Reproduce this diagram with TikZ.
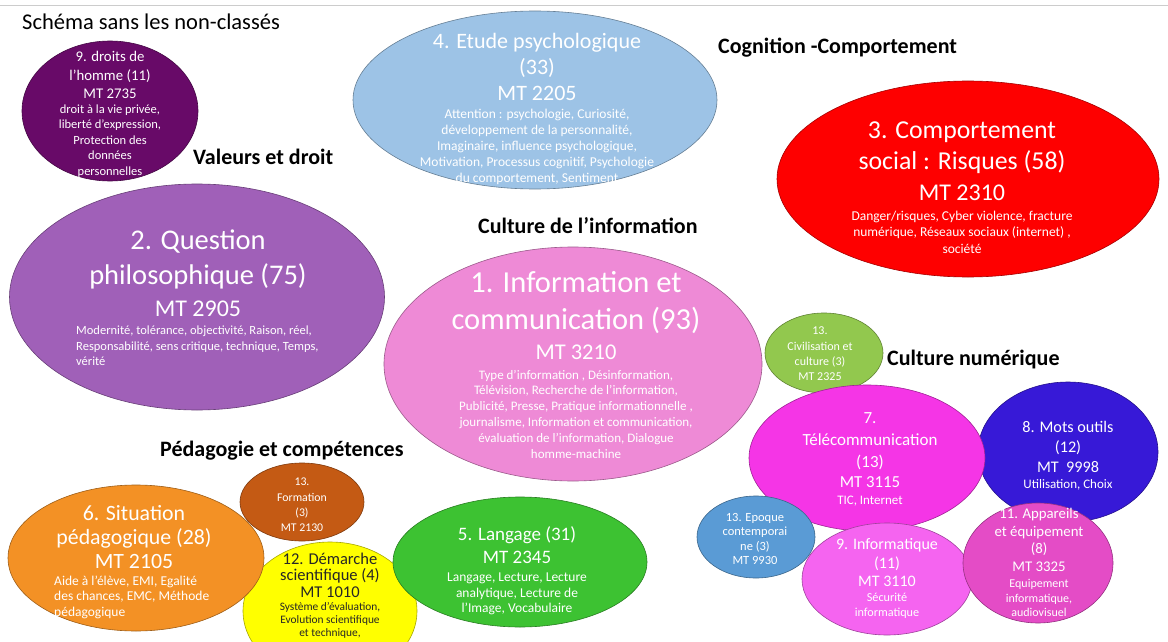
\documentclass[tikz,border=0pt]{standalone}
\usepackage{fontspec}
\setmainfont{Carlito}
\usetikzlibrary{shapes.geometric}
\newcommand\fsz[2]{\fontsize{#1}{#2}\selectfont}
\definecolor{cDroits}{RGB}{104,10,104}
\definecolor{cQuest}{RGB}{160,96,184}
\definecolor{cEtude}{RGB}{157,195,230}
\definecolor{cComp}{RGB}{254,0,0}
\definecolor{cInfo}{RGB}{238,138,214}
\definecolor{cCiv}{RGB}{146,200,78}
\definecolor{cTel}{RGB}{245,53,230}
\definecolor{cMots}{RGB}{55,25,215}
\definecolor{cEpoq}{RGB}{90,155,213}
\definecolor{cInfq}{RGB}{245,100,240}
\definecolor{cApp}{RGB}{228,76,198}
\definecolor{cSit}{RGB}{243,145,37}
\definecolor{cForm}{RGB}{196,90,20}
\definecolor{cDem}{RGB}{255,255,0}
\definecolor{cLang}{RGB}{61,194,50}
\begin{document}
\begin{tikzpicture}[x=1pt,y=-1pt,
  bub/.style={ellipse, draw=#1!65!black, fill=#1, line width=0.6pt, inner sep=0pt},
  txt/.style={align=center, text=white, inner sep=0pt},
  ltxt/.style={align=left, text=white, inner sep=0pt, anchor=west},
  hdr/.style={font=\bfseries\fsz{22}{26}, inner sep=0pt, anchor=west}]
\useasboundingbox (0,0) rectangle (1168,642);
\fill[white] (0,0) rectangle (1168,642);
\clip (0,0) rectangle (1168,642);
\draw[black!20, line width=0.8pt] (0,5) -- (1168,5);

% ellipses
\node[bub=cDroits, minimum width=176, minimum height=140] (e9d) at (110,111) {};
\node[bub=cQuest, minimum width=375, minimum height=226] (e2) at (197,297) {};
\node[bub=cEtude, minimum width=364, minimum height=178] (e4) at (535,100) {};
\node[bub=cComp, minimum width=382, minimum height=196] (e3) at (968,179) {};
\node[bub=cInfo, minimum width=378, minimum height=234] (e1) at (573,364) {};
\node[bub=cCiv, minimum width=118, minimum height=80] (e13c) at (824,353) {};
\node[bub=cMots, minimum width=180, minimum height=140] (e8) at (1068,452) {};
\node[bub=cTel, minimum width=236, minimum height=146] (e7) at (867,458) {};
\node[bub=cEpoq, minimum width=118, minimum height=82] (e13e) at (756,537) {};
\node[bub=cInfq, minimum width=170, minimum height=112] (e9i) at (887,579) {};
\node[bub=cApp, minimum width=150, minimum height=120] (e11) at (1038,563) {};
\node[bub=cDem, minimum width=174, minimum height=138] (e12) at (330,611) {};
\node[bub=cSit, minimum width=256, minimum height=146] (e6) at (136,558) {};
\node[bub=cForm, minimum width=124, minimum height=78] (e13f) at (302,502) {};
\node[bub=cLang, minimum width=254, minimum height=130] (e5) at (520,562) {};

% headings
\node[font=\fsz{22.5}{26}, inner sep=0pt, anchor=west] (title) at (22,22) {Schéma sans les non-classés};
\node[hdr] (hCog) at (718,48) {Cognition -Comportement};
\node[hdr] (hVal) at (193,157) {Valeurs et droit};
\node[hdr] (hCI) at (478,226) {Culture de l’information};
\node[hdr] (hCN) at (887,360) {Culture numérique};
\node[hdr] (hPed) at (160,451) {Pédagogie et compétences};

% 9. droits de l'homme
\node[txt, font=\fsz{14.8}{18.5}] (t9d) at (110,75) {9. droits de\\l’homme (11)\\MT 2735};
\node[txt, font=\fsz{12.5}{15.5}] (t9db) at (110,141) {droit à la vie privée,\\liberté d’expression,\\Protection des\\données\\personnelles};
% 4. Etude psychologique
\node[txt, font=\fsz{22}{26}] (t4) at (537,67) {4. Etude psychologique\\(33)\\MT 2205};
\node[txt, font=\fsz{13.5}{16}] (t4b) at (537,147) {Attention : psychologie, Curiosité,\\développement de la personnalité,\\Imaginaire, influence psychologique,\\Motivation, Processus cognitif, Psychologie\\du comportement, Sentiment};
% 3. Comportement social
\node[txt, font=\fsz{25.8}{31}] (t3) at (962,148) {3. Comportement\\social : Risques (58)};
\node[txt, font=\fsz{24}{28}] (t3m) at (962,193) {MT 2310};
\node[txt, font=\fsz{13.5}{16.5}] (t3b) at (962,232) {Danger/risques, Cyber violence, fracture\\numérique, Réseaux sociaux (internet) ,\\société};
% 2. Question philosophique
\node[txt, font=\fsz{28.5}{35}] (t2) at (198,259) {2. Question\\philosophique (75)};
\node[txt, font=\fsz{24}{28}] (t2m) at (198,309) {MT 2905};
\node[ltxt, font=\fsz{12.5}{15.5}] (t2b) at (76,346) {Modernité, tolérance, objectivité, Raison, réel,\\Responsabilité, sens critique, technique, Temps,\\vérité};
% 1. Information et communication
\node[txt, font=\fsz{30.5}{37}] (t1) at (576,303) {1. Information et\\communication (93)};
\node[txt, font=\fsz{22.5}{27}] (t1m) at (576,352) {MT 3210};
\node[txt, font=\fsz{13}{15.8}] (t1b) at (576,414) {Type d’information , Désinformation,\\Télévision, Recherche de l’information,\\Publicité, Presse, Pratique informationnelle ,\\journalisme, Information et communication,\\évaluation de l’information, Dialogue\\homme-machine};
% 13. Civilisation et culture
\node[txt, font=\fsz{12}{15.3}] (t13c) at (820,354) {13.\\Civilisation et\\culture (3)\\MT 2325};
% 7. Telecommunication
\node[txt, font=\fsz{17}{22}] (t7) at (870,441) {7.\\Télécommunication\\(13)};
\node[txt, font=\fsz{16.8}{20}] (t7m) at (870,482) {MT 3115};
\node[txt, font=\fsz{13}{16}] (t7b) at (870,501) {TIC, Internet};
% 8. Mots outils
\node[txt, font=\fsz{16.2}{20}] (t8) at (1068,447) {8. Mots outils\\(12)\\MT\ \ 9998};
\node[txt, font=\fsz{13}{16}] (t8b) at (1068,485) {Utilisation, Choix};
% 13. Epoque contemporaine
\node[txt, font=\fsz{12.5}{14.5}] (t13e) at (755,539) {13. Epoque\\contemporai\\ne (3)\\MT 9930};
% 9. Informatique
\node[txt, font=\fsz{16}{18.5}] (t9i) at (887,563) {9. Informatique\\(11)\\MT 3110};
\node[txt, font=\fsz{12.2}{15}] (t9ib) at (887,606) {Sécurité\\informatique};
% 11. Appareils
\node[txt, font=\fsz{14.8}{17.7}] (t11) at (1039,540) {11. Appareils\\et équipement\\(8)\\MT 3325};
\node[txt, font=\fsz{12}{14.5}] (t11b) at (1039,598) {Equipement\\informatique,\\audiovisuel};
% 6. Situation pedagogique
\node[txt, font=\fsz{21.8}{24}] (t6) at (134,537) {6. Situation\\pédagogique (28)\\MT 2105};
\node[ltxt, font=\fsz{13.5}{15.5}] (t6b) at (54,597) {Aide à l’élève, EMI, Egalité\\des chances, EMC, Méthode\\pédagogique};
% 13. Formation
\node[txt, font=\fsz{11.8}{15.3}] (t13f) at (302,505) {13.\\Formation\\(3)\\MT 2130};
% 5. Langage
\node[txt, font=\fsz{19}{23}] (t5) at (517,545) {5. Langage (31)\\MT 2345};
\node[txt, font=\fsz{13.5}{15.5}] (t5b) at (517,594) {Langage, Lecture, Lecture\\analytique, Lecture de\\l’Image, Vocabulaire};
% 12. Demarche scientifique
\node[txt, text=black!85, font=\fsz{16.5}{16.5}] (t12) at (330,575) {12. Démarche\\scientifique (4)\\MT 1010};
\node[txt, text=black!85, font=\fsz{11.4}{13}] (t12b) at (330,620) {Système d’évaluation,\\Evolution scientifique\\et technique,};
\end{tikzpicture}
\end{document}
